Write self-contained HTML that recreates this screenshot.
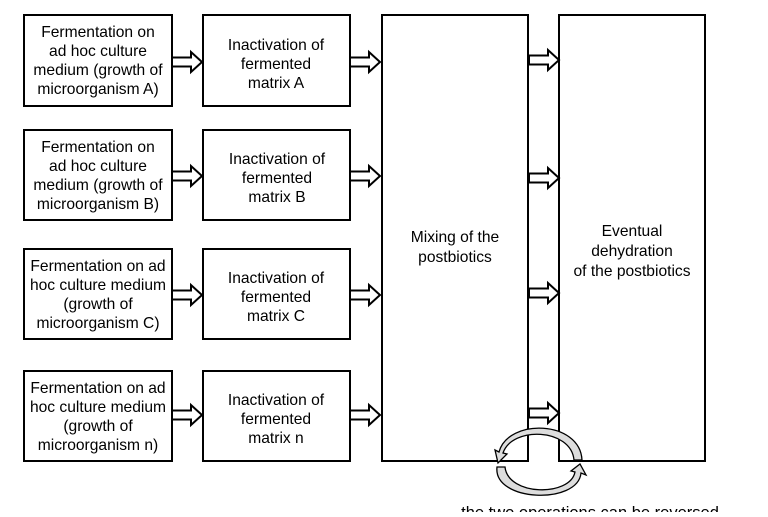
<!DOCTYPE html>
<html><head><style>
body{margin:0;background:#fff;}
svg text{font-family:"Liberation Sans",Arial,sans-serif;font-size:15.6px;fill:#000;text-anchor:middle;}
</style></head><body>
<svg width="768" height="512" viewBox="0 0 768 512" xmlns="http://www.w3.org/2000/svg">
<defs>
<g id="ar"><path d="M0,-4.5 H19 V-10 L30,0 L19,10 V4.5 H0 Z" fill="#fff" stroke="#000" stroke-width="2"/></g>
</defs>
<g fill="#fff" stroke="#000" stroke-width="2">
<rect x="24" y="15" width="148" height="91"/>
<rect x="24" y="130" width="148" height="90"/>
<rect x="24" y="249" width="148" height="90"/>
<rect x="24" y="371" width="148" height="90"/>
<rect x="203" y="15" width="147" height="91"/>
<rect x="203" y="130" width="147" height="90"/>
<rect x="203" y="249" width="147" height="90"/>
<rect x="203" y="371" width="147" height="90"/>
<rect x="382" y="15" width="146" height="446"/>
<rect x="559" y="15" width="146" height="446"/>
</g>
<use href="#ar" x="172" y="62"/><use href="#ar" x="172" y="176"/><use href="#ar" x="172" y="295"/><use href="#ar" x="172" y="415"/>
<use href="#ar" x="350" y="62"/><use href="#ar" x="350" y="176"/><use href="#ar" x="350" y="295"/><use href="#ar" x="350" y="415"/>
<use href="#ar" x="529" y="60"/><use href="#ar" x="529" y="178"/><use href="#ar" x="529" y="293"/><use href="#ar" x="529" y="413"/>
<g>
<text x="98" y="37">Fermentation on</text><text x="98" y="56">ad hoc culture</text><text x="98" y="75">medium (growth of</text><text x="98" y="94">microorganism A)</text>
<text x="98" y="152">Fermentation on</text><text x="98" y="171">ad hoc culture</text><text x="98" y="190">medium (growth of</text><text x="98" y="209">microorganism B)</text>
<text x="98" y="271">Fermentation on ad</text><text x="98" y="290">hoc culture medium</text><text x="98" y="309">(growth of</text><text x="98" y="328">microorganism C)</text>
<text x="98" y="393">Fermentation on ad</text><text x="98" y="412">hoc culture medium</text><text x="98" y="431">(growth of</text><text x="98" y="450">microorganism n)</text>
<text x="276" y="50">Inactivation of</text><text x="276" y="69">fermented</text><text x="276" y="88">matrix A</text>
<text x="277" y="164">Inactivation of</text><text x="277" y="183">fermented</text><text x="277" y="202">matrix B</text>
<text x="276" y="283">Inactivation of</text><text x="276" y="302">fermented</text><text x="276" y="321">matrix C</text>
<text x="276" y="405">Inactivation of</text><text x="276" y="424">fermented</text><text x="276" y="443">matrix n</text>
<text x="455" y="242">Mixing of the</text><text x="455" y="262">postbiotics</text>
<text x="632" y="236">Eventual</text><text x="632" y="256">dehydration</text><text x="632" y="276">of the postbiotics</text>
<text x="590" y="518" style="font-size:16.5px">the two operations can be reversed</text>
</g>
<g fill="#ddd" stroke="#000" stroke-width="1.3">
<path d="M582,460 C580,420 508,418 499,452 L495,450 L498,463 L507,454 L503,453 C512,426 571,428 574,460 Z"/>
<path d="M497,467 C493,502 578,505 581,473 L586,475 L580,464 L571,471 L575,472 C570,497 508,496 505,467 Z"/>
</g>
</svg>
</body></html>
